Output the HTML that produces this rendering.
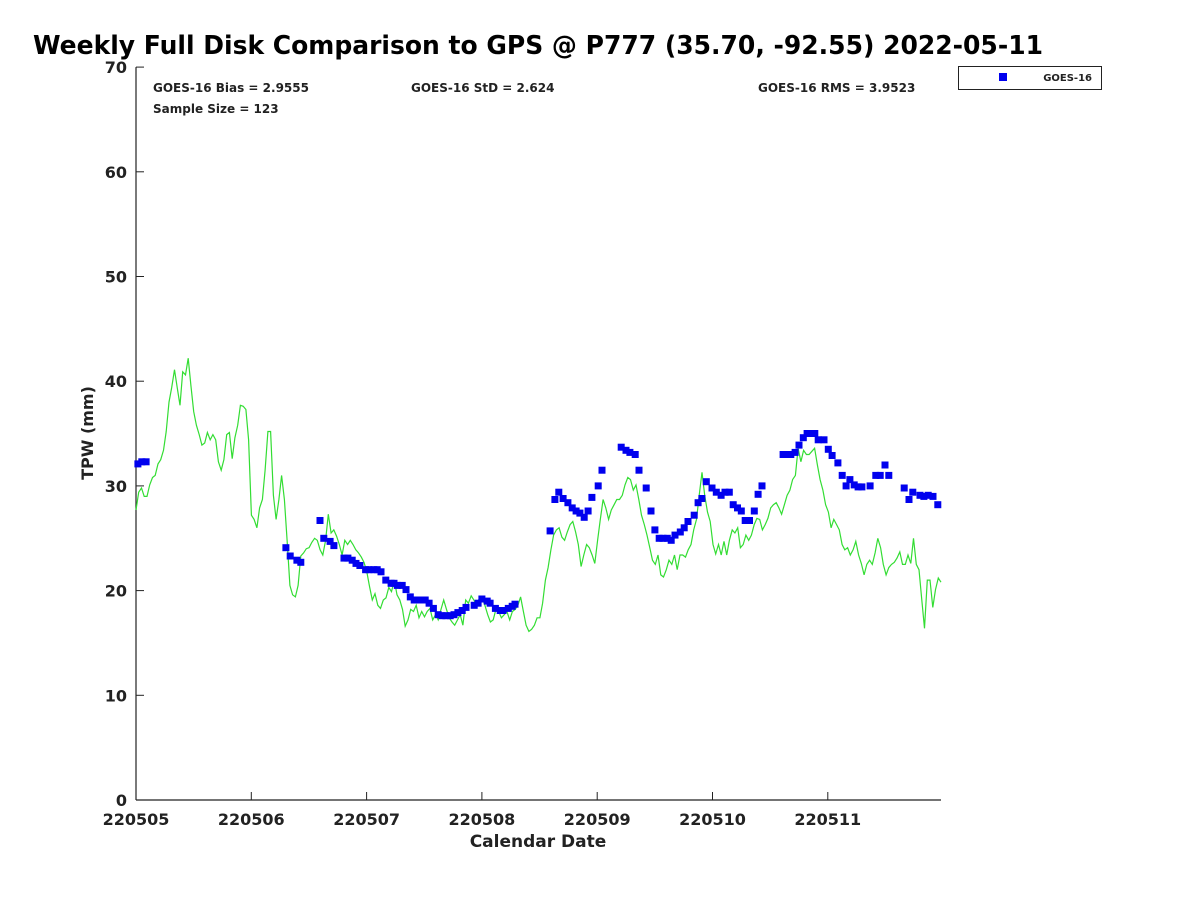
<!DOCTYPE html>
<html><head><meta charset="utf-8"><style>
body{margin:0;background:#fff;}
svg text{font-family:"DejaVu Sans","Liberation Sans",sans-serif;font-weight:bold;fill:#222;}
</style></head><body>
<svg id="chart" width="1200" height="900" xmlns="http://www.w3.org/2000/svg">
<rect width="1200" height="900" fill="#fff"/>
<text x="33" y="54" font-size="25.5" textLength="1010" lengthAdjust="spacingAndGlyphs" style="fill:#000">Weekly Full Disk Comparison to GPS @ P777 (35.70, -92.55) 2022-05-11</text>
<text x="153" y="92" font-size="12">GOES-16 Bias = 2.9555</text>
<text x="153" y="113" font-size="12">Sample Size = 123</text>
<text x="411" y="92" font-size="12">GOES-16 StD = 2.624</text>
<text x="758" y="92" font-size="12">GOES-16 RMS = 3.9523</text>
<g>
<rect x="958.5" y="66.5" width="143" height="23" fill="#fff" stroke="#222" stroke-width="1"/>
<rect x="999" y="73" width="8" height="8" fill="#0000ee"/>
<text x="1092" y="81" text-anchor="end" font-size="10">GOES-16</text>
</g>
<g id="axes"></g>
<g id="series"></g>
<text transform="translate(93,433) rotate(-90)" text-anchor="middle" font-size="16">TPW (mm)</text>
<text x="538" y="847" text-anchor="middle" font-size="17">Calendar Date</text>
</svg>
<script>
const xTickLabels = ["220505","220506","220507","220508","220509","220510","220511"];
const yTicks = [0,10,20,30,40,50,60,70];
const gpsValues = [27.7,29.4,29.8,29.0,29.0,30.1,30.8,31.0,32.1,32.5,33.4,35.2,38.0,39.4,41.1,39.4,37.7,40.9,40.6,42.2,39.6,37.1,35.8,34.9,33.9,34.1,35.1,34.4,34.9,34.4,32.3,31.5,32.5,34.9,35.1,32.6,34.6,35.8,37.7,37.6,37.3,34.4,27.2,26.8,26.0,27.9,28.7,31.5,35.2,35.2,29.1,26.8,28.7,31.0,28.7,24.8,20.5,19.6,19.4,20.5,23.3,23.6,24.0,24.1,24.6,25.0,24.8,23.9,23.4,24.8,27.3,25.5,25.8,25.2,24.4,23.4,24.8,24.4,24.8,24.4,23.9,23.6,23.2,22.7,21.8,20.4,19.1,19.7,18.6,18.3,19.1,19.3,20.3,19.9,21.0,19.6,19.1,18.2,16.6,17.2,18.2,18.0,18.6,17.4,18.0,17.5,18.0,18.3,17.2,17.7,17.2,18.2,19.1,18.2,17.4,17.0,16.7,17.2,17.7,16.7,19.1,18.8,19.5,19.1,18.6,19.3,19.3,18.6,17.7,17.0,17.2,18.2,18.0,17.4,17.7,18.0,17.2,18.0,18.2,18.6,19.4,18.0,16.7,16.1,16.3,16.7,17.4,17.4,18.8,21.0,22.2,23.9,25.3,25.8,26.0,25.1,24.8,25.6,26.3,26.6,25.6,24.4,22.3,23.4,24.4,24.1,23.4,22.6,24.8,26.8,28.7,27.9,26.8,27.7,28.2,28.7,28.7,29.1,30.1,30.8,30.6,29.6,30.1,28.7,27.2,26.3,25.3,24.1,22.9,22.5,23.4,21.5,21.3,22.0,22.9,22.5,23.4,22.0,23.4,23.4,23.2,23.9,24.4,25.8,26.8,29.1,31.3,29.1,27.5,26.6,24.4,23.5,24.4,23.4,24.7,23.4,24.8,25.8,25.5,26.0,24.1,24.4,25.3,24.8,25.3,26.3,26.9,26.8,25.8,26.3,26.9,27.9,28.2,28.4,27.9,27.3,28.2,29.1,29.6,30.6,31.0,33.6,32.3,33.4,33.0,33.0,33.3,33.6,32.0,30.6,29.6,28.2,27.5,26.0,26.8,26.3,25.8,24.4,23.9,24.1,23.4,23.9,24.7,23.4,22.6,21.5,22.5,22.9,22.5,23.6,25.0,24.1,22.5,21.5,22.2,22.5,22.7,23.1,23.7,22.5,22.5,23.4,22.6,25.0,22.5,22.0,19.1,16.4,21.0,21.0,18.4,20.1,21.2,20.8];
const goesHours = [0.4,1.2,2.1,31.2,32.1,33.5,34.3,38.3,39.1,40.4,41.2,43.3,44.1,45.0,45.8,46.6,47.8,48.5,49.5,50.2,51.0,52.0,53.1,53.7,54.4,55.4,56.2,57.1,57.9,58.7,59.6,60.2,61.0,61.9,62.9,63.7,64.5,65.4,66.2,67.0,67.9,68.7,70.4,71.2,72.0,73.1,73.7,74.8,75.8,76.4,77.5,78.3,78.9,86.2,87.2,88.0,88.9,89.9,90.8,91.6,92.4,93.3,94.1,94.9,96.2,97.0,101.0,102.0,102.8,103.9,104.7,106.2,107.2,108.0,108.9,109.7,110.6,111.4,112.2,113.3,114.1,114.9,116.2,117.0,117.8,118.7,119.9,120.8,121.8,122.6,123.5,124.3,125.2,126.0,126.8,127.7,128.7,129.5,130.3,134.7,135.5,136.3,137.2,138.0,138.9,139.7,140.5,141.3,142.0,143.2,144.1,144.9,146.1,147.0,147.8,148.6,149.5,150.3,151.1,152.8,154.0,154.9,155.9,156.7,159.9,160.9,161.7,163.2,164.0,164.9,165.9,166.9];
const goesValues = [32.1,32.3,32.3,24.1,23.3,22.9,22.7,26.7,25.0,24.7,24.3,23.1,23.1,22.9,22.6,22.4,22.0,22.0,22.0,22.0,21.8,21.0,20.7,20.7,20.5,20.5,20.1,19.4,19.1,19.1,19.1,19.1,18.8,18.3,17.7,17.6,17.6,17.6,17.7,17.9,18.1,18.4,18.6,18.8,19.2,19.0,18.8,18.3,18.1,18.1,18.3,18.5,18.7,25.7,28.7,29.4,28.8,28.4,27.9,27.6,27.4,27.0,27.6,28.9,30.0,31.5,33.7,33.4,33.2,33.0,31.5,29.8,27.6,25.8,25.0,25.0,25.0,24.8,25.3,25.6,26.0,26.6,27.2,28.4,28.8,30.4,29.8,29.4,29.1,29.4,29.4,28.2,27.9,27.6,26.7,26.7,27.6,29.2,30.0,33.0,33.0,33.0,33.2,33.9,34.6,35.0,35.0,35.0,34.4,34.4,33.5,32.9,32.2,31.0,30.0,30.6,30.1,29.9,29.9,30.0,31.0,31.0,32.0,31.0,29.8,28.7,29.4,29.1,29.0,29.1,29.0,28.2];

const X0=136, DAY=115.3, Y0=800, YUNIT=10.47, XEND=941;
function xDay(d){return X0+d*DAY;}
function xHour(h){return X0+h*DAY/24;}
function yVal(v){return Y0-v*YUNIT;}
const NS="http://www.w3.org/2000/svg";
function mk(tag,attrs,parent){const e=document.createElementNS(NS,tag);for(const k in attrs)e.setAttribute(k,attrs[k]);parent.appendChild(e);return e;}
const axes=document.getElementById('axes'), series=document.getElementById('series');

const yAxis=mk('line',{x1:X0,y1:yVal(70),x2:X0,y2:Y0,stroke:'#222','stroke-width':1.2},axes);


const xAxis=mk('line',{x1:X0,y1:Y0,x2:XEND,y2:Y0,stroke:'#222','stroke-width':1.2},axes);



yTicks.forEach(v=>{
  const t=mk('line',{x1:X0,y1:yVal(v),x2:X0+8,y2:yVal(v),stroke:'#222','stroke-width':1},axes);
  
  
  const l=mk('text',{x:X0-9,y:yVal(v)+6,'text-anchor':'end','font-size':16},axes);
  l.textContent=v;
  
  
});
xTickLabels.forEach((lab,i)=>{
  const t=mk('line',{x1:xDay(i),y1:Y0,x2:xDay(i),y2:Y0-8,stroke:'#222','stroke-width':1},axes);
  
  
  const l=mk('text',{x:xDay(i),y:Y0+25,'text-anchor':'middle','font-size':16},axes);
  l.textContent=lab;
  
  
});

const n=gpsValues.length;
const pts=gpsValues.map((v,i)=>xDay(i*(XEND-X0)/DAY/(n-1)).toFixed(1)+','+yVal(v).toFixed(1)).join(' ');
const line=mk('polyline',{points:pts,fill:'none',stroke:'#33dd33','stroke-width':1.2},series);



goesHours.forEach((h,i)=>{
  const r=mk('rect',{x:(xHour(h)-3.5).toFixed(1),y:(yVal(goesValues[i])-3.5).toFixed(1),width:7,height:7,fill:'#0000ee'},series);
  
  
});
</script>
</body></html>
